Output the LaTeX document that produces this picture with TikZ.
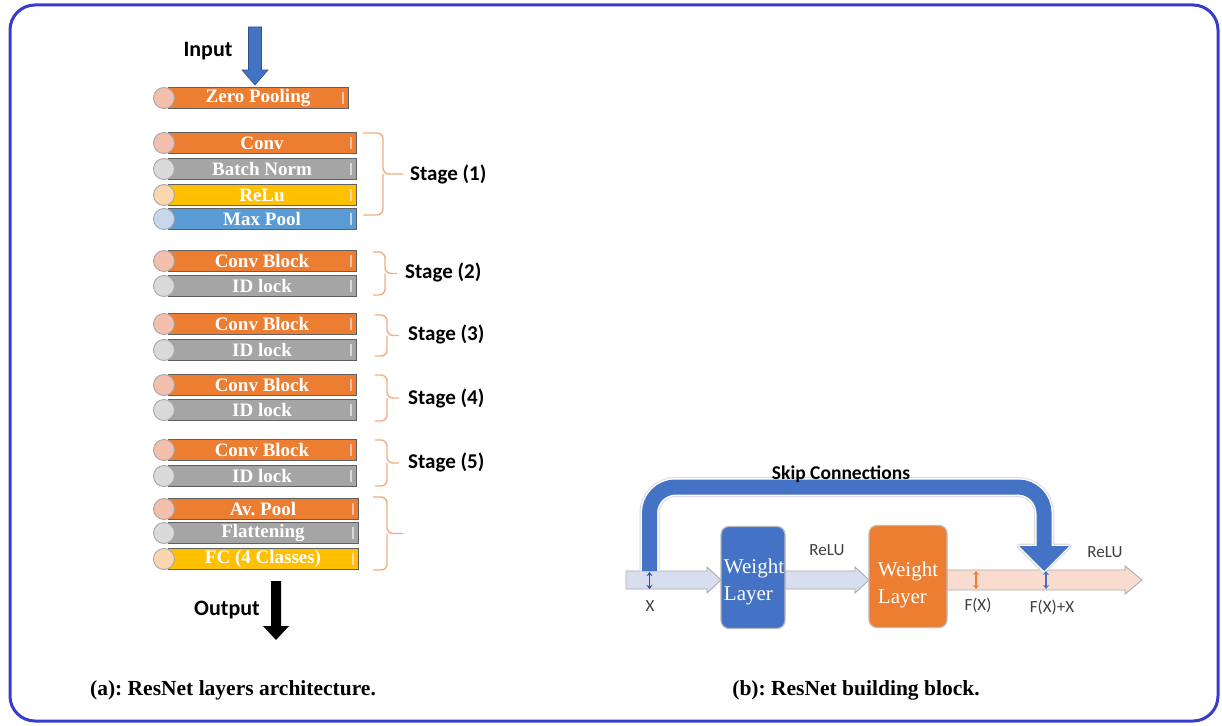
\documentclass[tikz,border=0pt]{standalone}
\usepackage{fontspec}
\setmainfont{Liberation Serif}
\newfontfamily\calib{Carlito}
\usetikzlibrary{arrows.meta,calc}

\definecolor{frameblue}{RGB}{55,60,205}
\definecolor{barorange}{HTML}{ED7D31}
\definecolor{bargrey}{HTML}{A5A5A5}
\definecolor{bargold}{HTML}{FFC000}
\definecolor{barblue}{HTML}{5B9BD5}
\definecolor{discorange}{HTML}{F4BFAC}
\definecolor{discgrey}{HTML}{DADADA}
\definecolor{discgold}{HTML}{FAD6AE}
\definecolor{discblue}{HTML}{C7D8EE}
\definecolor{bracecol}{HTML}{F2AE85}
\definecolor{wblue}{HTML}{4472C4}
\definecolor{flowblue}{HTML}{D7DEF0}
\definecolor{flowpink}{HTML}{F9DBD0}
\definecolor{txtgrey}{HTML}{404040}
\definecolor{darkarrow}{HTML}{2F5597}

% one layer of the network: bar, end disc and highlight tick
\newcommand\layerbar[6]{%
  \node[layerbox, fill=#4, minimum width={#3-168}] (#1) at ({(#3+168)/2},#2) {#6};
  \draw[tickmark, draw=#5] ($(#1.east)+(-5,-6)$) -- ($(#1.east)+(-5,6)$);
  \node[disc, fill=#5] (#1d) at (164,#2) {};
}
% bracket grouping the layers of a stage
\newcommand\stagebrace[5]{%
  \draw[bracket] (#1,#4) -| (#2,{(#4+#5)/2}) -- (#3,{(#4+#5)/2});
  \draw[bracket] (#1,#5) -| (#2,{(#4+#5)/2});
}

\begin{document}
\frenchspacing
\begin{tikzpicture}[x=1pt,y=-1pt,
  layerbox/.style={rectangle, draw=gray!75!black, line width=0.7, minimum height=21,
    inner sep=0, text=white, font=\bfseries\fontsize{19}{20}\selectfont},
  tickmark/.style={line width=2},
  disc/.style={circle, draw=gray!70, line width=0.9, minimum size=21, inner sep=0},
  bracket/.style={draw=bracecol, line width=1.4, rounded corners=6},
  stagelbl/.style={anchor=west, inner sep=0, font=\calib\bfseries\fontsize{21}{24}\selectfont},
  biglbl/.style={inner sep=0, font=\calib\bfseries\fontsize{22}{25}\selectfont},
  caption/.style={inner sep=0, font=\bfseries\fontsize{21.5}{24}\selectfont},
  wbox/.style={rectangle, rounded corners=8, draw=gray!55, line width=1.2,
    minimum height=102, inner sep=0},
  wtext/.style={inner sep=0, align=left, text=white, font=\fontsize{21}{27}\selectfont},
  flow/.style={draw=gray!65, line width=0.9, line join=miter},
  small/.style={inner sep=0, text=txtgrey, font=\calib\fontsize{17}{19}\selectfont},
  dbl/.style={line width=1.6, {Stealth[length=4,width=6]}-{Stealth[length=4,width=6]}}
]
\useasboundingbox (0,0) rectangle (1222,725);
\fill[white] (0,0) rectangle (1222,725);
\draw[frameblue, line width=3, rounded corners=25] (10,5) rectangle (1218,721);

% ---------------- (a) layer stack ----------------
\node[biglbl] (inlbl) at (208,51) {Input};
\filldraw[fill=wblue, draw=wblue!70!black, line width=0.6]
  (248.5,27) -- (261.5,27) -- (261.5,70) -- (268,70) -- (255,85) -- (242,70) -- (248.5,70) -- cycle;

\layerbar{zp}{98}{348}{barorange}{discorange}{Zero Pooling}

\layerbar{cv}{143}{356}{barorange}{discorange}{Conv}
\layerbar{bn}{169}{356}{bargrey}{discgrey}{Batch Norm}
\layerbar{rl}{195}{356}{bargold}{discgold}{ReLu}
\layerbar{mp}{219}{356}{barblue}{discblue}{Max Pool}
\stagebrace{363}{383}{403}{133}{215}
\node[stagelbl] (st1) at (410,174) {Stage (1)};

\layerbar{cbb}{261}{356}{barorange}{discorange}{Conv Block}
\layerbar{idb}{286}{356}{bargrey}{discgrey}{ID lock}
\stagebrace{373}{385}{397}{252}{295}
\node[stagelbl] (st2) at (405,272) {Stage (2)};

\layerbar{cbc}{324}{356}{barorange}{discorange}{Conv Block}
\layerbar{idc}{350}{356}{bargrey}{discgrey}{ID lock}
\stagebrace{375}{387}{399}{315}{356}
\node[stagelbl] (st3) at (408,334) {Stage (3)};

\layerbar{cbd}{385}{356}{barorange}{discorange}{Conv Block}
\layerbar{idd}{410}{356}{bargrey}{discgrey}{ID lock}
\stagebrace{375}{387}{399}{375}{421}
\node[stagelbl] (st4) at (408,398) {Stage (4)};

\layerbar{cbe}{450}{356}{barorange}{discorange}{Conv Block}
\layerbar{ide}{476}{356}{bargrey}{discgrey}{ID lock}
\stagebrace{375}{387}{399}{440}{486}
\node[stagelbl] (st5) at (408,462) {Stage (5)};

\layerbar{ap}{509}{358}{barorange}{discorange}{Av. Pool}
\layerbar{fl}{533}{358}{bargrey}{discgrey}{Flattening}
\layerbar{fc}{559}{358}{bargold}{discgold}{FC (4 Classes)}
\stagebrace{373}{387}{403}{497}{570}

\node[biglbl] (outlbl) at (227,610) {Output};
\fill[black] (271,581) -- (281,581) -- (281,626) -- (289,626) -- (276,640) -- (263,626) -- (271,626) -- cycle;

\node[caption] (capa) at (233,690) {(a): ResNet layers architecture.};

% ---------------- (b) residual block ----------------
\filldraw[flow, fill=flowblue]
  (626,571) -- (707,571) -- (707,567) -- (721,580) -- (707,593) -- (707,589) -- (626,589) -- cycle;
\filldraw[flow, fill=flowblue]
  (785,571) -- (855,571) -- (855,567) -- (869,580) -- (855,593) -- (855,589) -- (785,589) -- cycle;
\filldraw[flow, fill=flowpink]
  (947,570) -- (1125,570) -- (1125,566) -- (1142,580) -- (1125,594) -- (1125,590) -- (947,590) -- cycle;

\node[wbox, fill=wblue, minimum width=64] (wl1) at (753,577.5) {};
\node[wtext] (wl1t) at ($(wl1.center)+(1,4)$) {Weight\\Layer};
\node[wbox, fill=barorange, minimum width=78] (wl2) at (908,576.5) {};
\node[wtext] (wl2t) at ($(wl2.center)+(0,8)$) {Weight\\Layer};

\node[small] (relu1) at (827,550) {ReLU};
\node[small] (relu2) at (1105,552) {ReLU};
\node[small] (lx) at (650,606) {X};
\node[small] (lfx) at (978,605) {F(X)};
\node[small] (lsum) at (1052,607) {F(X)+X};

% skip connection
\coordinate (xin) at (649.5,571);
\coordinate (skiptop) at (841,487);
\coordinate (sumin) at (1044,546);
\draw[gray!30, line width=20, rounded corners=26] (xin) |- (skiptop) -| (sumin);
\filldraw[gray!30, line width=5, line join=round] (1019,546) -- (1069,546) -- (1044,571) -- cycle;
\draw[white, line width=18, rounded corners=26] (xin) |- (skiptop) -| (sumin);
\filldraw[white, line width=2.5, line join=round] (1019,546) -- (1069,546) -- (1044,571) -- cycle;
\draw[wblue, line width=15, rounded corners=26] (xin) |- (skiptop) -| (sumin);
\fill[wblue] (1019,546) -- (1069,546) -- (1044,571) -- cycle;
\node[biglbl, font=\calib\bfseries\fontsize{19.5}{22}\selectfont] (skiplbl) at (841,474) {Skip Connections};

\draw[dbl, darkarrow] (649.5,572) -- (649.5,589);
\draw[dbl, barorange] (976,571) -- (976,589);
\draw[dbl, wblue] (1046,571) -- (1046,589);

\node[caption] (capb) at (856,690) {(b): ResNet building block.};
\end{tikzpicture}
\end{document}
